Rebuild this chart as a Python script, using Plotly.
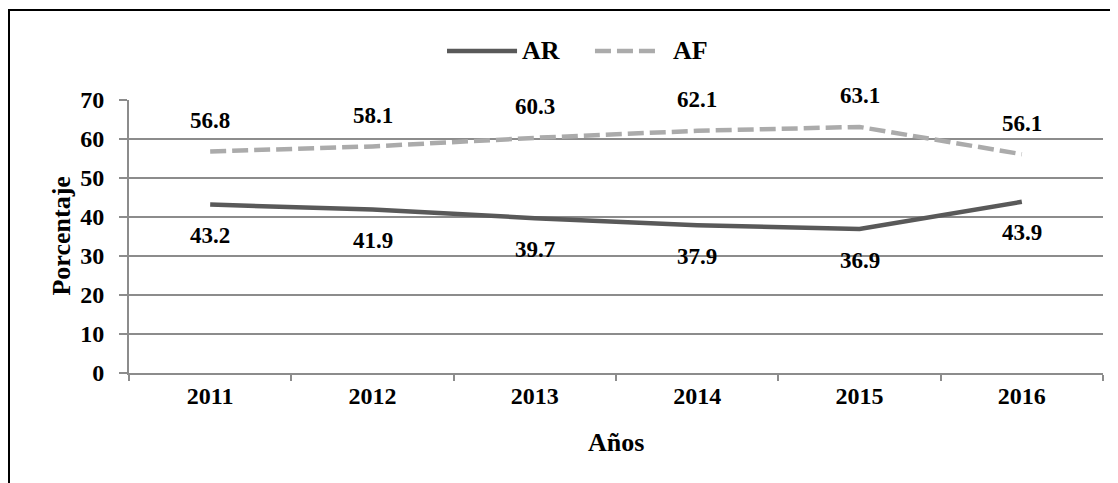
import plotly.graph_objects as go

years = ["2011", "2012", "2013", "2014", "2015", "2016"]
ar_values = [43.2, 41.9, 39.7, 37.9, 36.9, 43.9]
af_values = [56.8, 58.1, 60.3, 62.1, 63.1, 56.1]
series_names = ["AR", "AF"]
y_ticks = [0, 10, 20, 30, 40, 50, 60, 70]

FONT = "Liberation Serif, Times New Roman, serif"
AR_COLOR = "#595959"
AF_COLOR = "#ababab"
GRID = "#8c8c8c"

fig = go.Figure()
fig.add_trace(go.Scatter(x=years, y=ar_values, mode="lines", name=series_names[0],
                         line=dict(color=AR_COLOR, width=4.5), showlegend=False))
fig.add_trace(go.Scatter(x=years, y=af_values, mode="lines", name=series_names[1],
                         line=dict(color=AF_COLOR, width=4.5, dash="16px,6px"), showlegend=False))

annotations = []
for i, v in enumerate(ar_values):
    annotations.append(dict(x=i, y=v, xref="x", yref="y", text=f"{v:.1f}", showarrow=False,
                            yshift=-31, font=dict(family=FONT, size=23, color="black", weight="bold")))
for i, v in enumerate(af_values):
    annotations.append(dict(x=i, y=v, xref="x", yref="y", text=f"{v:.1f}", showarrow=False,
                            yshift=31, font=dict(family=FONT, size=23, color="black", weight="bold")))

# axis titles
annotations.append(dict(x=-0.0698, y=0.5, xref="paper", yref="paper", text="Porcentaje",
                        textangle=-90, showarrow=False, xanchor="center", yanchor="middle",
                        font=dict(family=FONT, size=26, color="black", weight="bold")))
annotations.append(dict(x=0.5, y=-0.253, xref="paper", yref="paper", text="Años",
                        showarrow=False, xanchor="center", yanchor="middle",
                        font=dict(family=FONT, size=26, color="black", weight="bold")))

# custom legend (wide line samples as in the original)
leg_y = 1.1795
annotations.append(dict(x=0.4014, y=leg_y, xref="paper", yref="paper", text=series_names[0],
                        showarrow=False, xanchor="left", yanchor="middle",
                        font=dict(family=FONT, size=26, color="black", weight="bold")))
annotations.append(dict(x=0.5565, y=leg_y, xref="paper", yref="paper", text=series_names[1],
                        showarrow=False, xanchor="left", yanchor="middle",
                        font=dict(family=FONT, size=26, color="black", weight="bold")))

shapes = [
    dict(type="line", xref="paper", yref="paper", x0=0.3265, x1=0.3984, y0=leg_y, y1=leg_y,
         line=dict(color=AR_COLOR, width=4.5)),
    dict(type="line", xref="paper", yref="paper", x0=0.4784, x1=0.5421, y0=leg_y, y1=leg_y,
         line=dict(color=AF_COLOR, width=4.5, dash="16px,6px")),
    # outer chart border
    dict(type="rect", xref="paper", yref="paper", x0=-0.1232, x1=1.03, y0=-0.47, y1=1.3297,
         line=dict(color="black", width=2), fillcolor="rgba(0,0,0,0)", layer="below"),
]

fig.update_layout(
    width=1118, height=483,
    margin=dict(l=121, r=23, t=92, b=118),
    paper_bgcolor="white", plot_bgcolor="white",
    font=dict(family=FONT, size=23, color="black", weight="bold"),
    annotations=annotations, shapes=shapes,
    showlegend=False,
)
fig.update_xaxes(
    type="category", range=[-0.5, len(years) - 0.5], autorange=False,
    tickson="boundaries", ticks="outside", ticklen=6, tickcolor=GRID, tickwidth=2,
    showline=True, linecolor=GRID, linewidth=2, showgrid=False,
    tickfont=dict(family=FONT, size=24, color="black", weight="bold"),
)
fig.update_yaxes(
    range=[0, 70], autorange=False, tickvals=y_ticks, ticks="outside", ticklen=8,
    tickcolor=GRID, tickwidth=2,
    showline=True, linecolor=GRID, linewidth=2, showgrid=True, gridcolor=GRID, gridwidth=2,
    zeroline=False, ticklabelstandoff=10,
    tickfont=dict(family=FONT, size=24, color="black", weight="bold"),
)

fig.write_html("out.html")
